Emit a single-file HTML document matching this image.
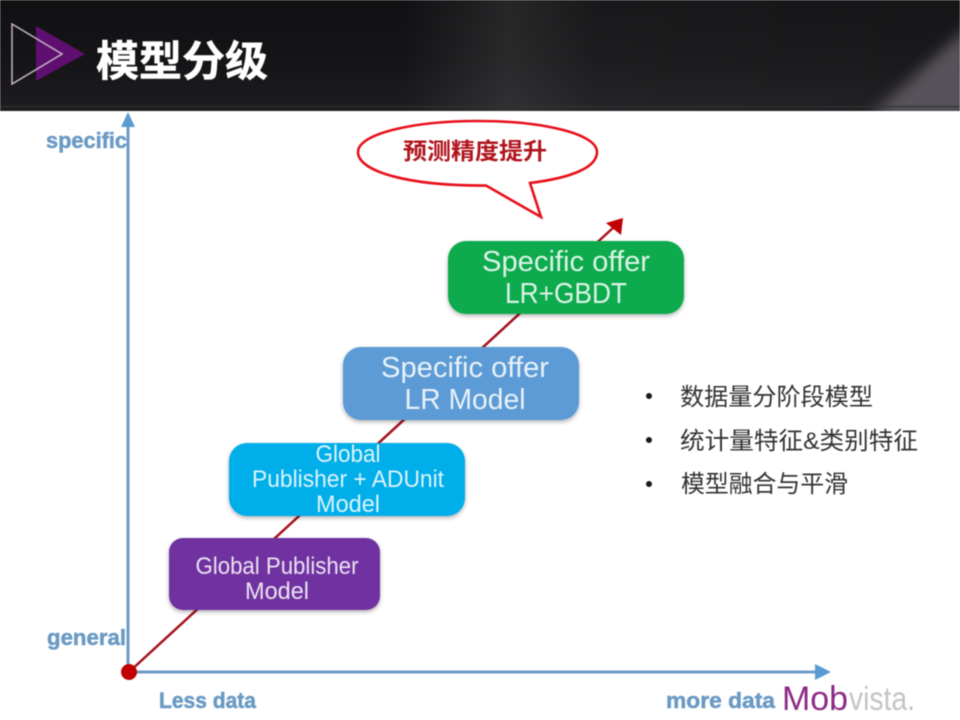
<!DOCTYPE html>
<html><head><meta charset="utf-8"><style>
html,body{margin:0;padding:0;background:#fff}
svg{display:block;filter:blur(.6px)}
.cjk{font-family:"Liberation Sans","Noto Sans CJK SC",sans-serif}
.lat{font-family:"Liberation Sans",sans-serif}
</style></head><body>
<svg width="960" height="720" viewBox="0 0 960 720" xmlns="http://www.w3.org/2000/svg">
<defs>
<linearGradient id="hd" x1="0" y1="0" x2="0" y2="1"><stop offset="0" stop-color="#111012"/><stop offset=".55" stop-color="#151416"/><stop offset="1" stop-color="#1e1c1f"/></linearGradient>
<linearGradient id="sh" x1="0" y1="0" x2="1" y2="0"><stop offset="0" stop-color="#fff" stop-opacity="0"/><stop offset=".42" stop-color="#fff" stop-opacity="0"/><stop offset=".53" stop-color="#fff" stop-opacity=".09"/><stop offset=".62" stop-color="#fff" stop-opacity=".035"/><stop offset="1" stop-color="#fff" stop-opacity=".02"/></linearGradient>
<filter id="ds" x="-10%" y="-15%" width="120%" height="135%"><feDropShadow dx="0" dy="2" stdDeviation="2" flood-color="#000" flood-opacity=".3"/></filter>
<filter id="bl" x="-30%" y="-30%" width="160%" height="160%"><feGaussianBlur stdDeviation="7"/></filter>
<clipPath id="hc"><rect width="960" height="111"/></clipPath>
</defs>
<rect width="960" height="720" fill="#fff"/>
<rect width="960" height="111" fill="url(#hd)"/>
<rect width="960" height="111" fill="url(#sh)"/>
<g clip-path="url(#hc)"><polygon points="868,118 970,25 970,118" fill="#56535a" filter="url(#bl)"/></g>
<rect y="106" width="960" height="1" fill="#333"/>
<polygon points="36,26 85,54 36,81" fill="#5f0f6f"/>
<polygon points="12,24 62,54 12,84" fill="none" stroke="#c4b6c6" stroke-width="1.500"/>
<text class="cjk" x="96" y="76" font-size="42" font-weight="700" fill="#fff" stroke="#fff" stroke-width=".5" textLength="172" lengthAdjust="spacingAndGlyphs">模型分级</text>

<!-- axes -->
<line x1="128" y1="672" x2="128" y2="124" stroke="#6c9bc7" stroke-width="3"/>
<polygon points="128,112 121,127 135,127" fill="#5b9bd5"/>
<line x1="128" y1="672" x2="816" y2="672" stroke="#6c9bc7" stroke-width="3"/>
<polygon points="831,672 815,664 815,680" fill="#5b9bd5"/>

<!-- red arrow -->
<line x1="129" y1="672" x2="614" y2="227" stroke="#a5121c" stroke-width="2.500"/>
<polygon points="623,218 606,223 621,235" fill="#c00000"/>
<circle cx="129" cy="672" r="8" fill="#c00000"/>

<!-- labels -->
<g class="lat" font-weight="700" font-size="22" fill="#6b9ac4" stroke="#6b9ac4" stroke-width=".5">
<text x="46" y="148" textLength="81" lengthAdjust="spacingAndGlyphs">specific</text>
<text x="47" y="645" textLength="79" lengthAdjust="spacingAndGlyphs">general</text>
<text x="159" y="708" textLength="97" lengthAdjust="spacingAndGlyphs">Less data</text>
<text x="666" y="708" textLength="109" lengthAdjust="spacingAndGlyphs">more data</text>
</g>
<text class="lat" x="782" y="710" font-size="34" fill="#8e2a86" textLength="66" lengthAdjust="spacingAndGlyphs">Mob</text>
<text class="lat" x="849" y="710" font-size="33" fill="#c4c4c6" textLength="66" lengthAdjust="spacingAndGlyphs">vista.</text>

<!-- callout -->
<path d="M486,185.500 L541,217 L530,183 C570,178 597,168 597,152 C597,134 544,121 478,121 C412,121 358,134 358,152 C358,172 410,186 486,185.500 Z" fill="#fff" stroke="#e8101c" stroke-width="2.600"/>
<text class="cjk" x="403" y="159" font-size="23" font-weight="700" fill="#b0141c" textLength="144" lengthAdjust="spacingAndGlyphs">预测精度提升</text>

<!-- boxes -->
<rect x="448" y="241" width="236" height="73" rx="18" fill="#0bab4d" filter="url(#ds)"/>
<rect x="343" y="347" width="236" height="73" rx="18" fill="#5b9bd5" filter="url(#ds)"/>
<rect x="229" y="443" width="236" height="73" rx="18" fill="#06aeea" filter="url(#ds)"/>
<rect x="169" y="538" width="211" height="72" rx="14" fill="#7030a0" filter="url(#ds)"/>

<g class="lat" fill="#fff" fill-opacity=".86" text-anchor="middle">
<text x="566" y="271" font-size="29" textLength="168" lengthAdjust="spacingAndGlyphs">Specific offer</text>
<text x="566" y="303" font-size="29" textLength="122" lengthAdjust="spacingAndGlyphs">LR+GBDT</text>
<text x="465" y="377" font-size="29" textLength="168" lengthAdjust="spacingAndGlyphs">Specific offer</text>
<text x="465" y="409" font-size="29" textLength="121" lengthAdjust="spacingAndGlyphs">LR Model</text>
<text x="348" y="462" font-size="24" textLength="65" lengthAdjust="spacingAndGlyphs">Global</text>
<text x="348" y="487" font-size="24" textLength="192" lengthAdjust="spacingAndGlyphs">Publisher + ADUnit</text>
<text x="348" y="512" font-size="24" textLength="64" lengthAdjust="spacingAndGlyphs">Model</text>
<text x="277" y="574" font-size="24" textLength="163" lengthAdjust="spacingAndGlyphs">Global Publisher</text>
<text x="277" y="599" font-size="24" textLength="64" lengthAdjust="spacingAndGlyphs">Model</text>
</g>

<!-- bullets -->
<g fill="#1a1a1a">
<circle cx="649" cy="396" r="3"/>
<circle cx="649" cy="440" r="3"/>
<circle cx="649" cy="484" r="3"/>
</g>
<g class="cjk" font-size="24" fill="#333">
<text x="680" y="405" textLength="193" lengthAdjust="spacingAndGlyphs">数据量分阶段模型</text>
<text x="680" y="449" textLength="238" lengthAdjust="spacingAndGlyphs">统计量特征&amp;类别特征</text>
<text x="681" y="492" textLength="167" lengthAdjust="spacingAndGlyphs">模型融合与平滑</text>
</g>
</svg>
</body></html>
